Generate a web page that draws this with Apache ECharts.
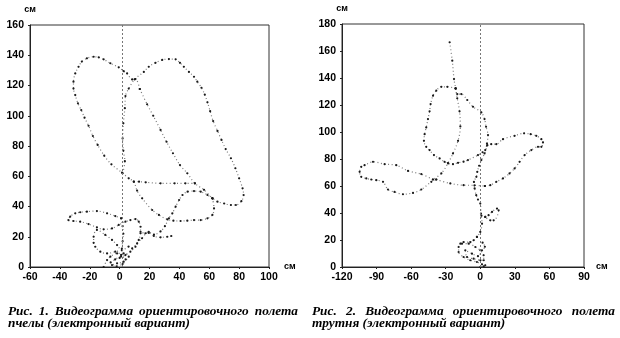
<!DOCTYPE html>
<html>
<head>
<meta charset="utf-8">
<script src="https://cdn.jsdelivr.net/npm/echarts@6/dist/echarts.min.js"></script>
<style>
html,body{margin:0;padding:0;background:#fff;}
#c{width:620px;height:338px;}
</style>
</head>
<body>
<div id="c"></div>
<script>
// ---------- Axis settings / tick labels ----------
const beeX = { min: -60, max: 100, interval: 20 };
const beeY = { min: 0, max: 160, interval: 20 };
const droneX = { min: -120, max: 90, interval: 30 };
const droneY = { min: 0, max: 180, interval: 20 };
const unitLabel = 'см';
const beeRefX = 2;    // vertical reference line, fig. 1
const droneRefX = 0;  // vertical reference line, fig. 2

// ---------- Fig. 1: bee trajectory segments (cm) ----------
const beeLeftLobe = [[13.5,117.7],[10.6,124.3],[8.4,124],[5,128],[2.7,129.5],[-0.6,132],[-6.2,134.7],[-10.7,137.3],[-14,138.6],[-17.4,139],[-21.9,138],[-25.3,135.8],[-27.5,132.4],[-29.7,128],[-30.9,122.5],[-30.9,118],[-29.7,113.7],[-27.9,108.2],[-25.7,103.8],[-23.5,98.7],[-20.8,93.4],[-17.9,86.6],[-14.7,80.7],[-10.3,73.6],[-5.5,67.9],[1.6,62.4],[6.1,58.6],[9.5,56.4],[11.7,50.5],[15.1,45.4],[21.8,37.7],[26.3,34.4],[31.9,31.5],[36,30.6],[40.8,30.4],[45.3,30.6],[49.8,31],[54.3,31],[58.8,32.2],[62.1,34.4],[63.2,38.8],[62.1,45.4]];
const beeDiagonal = [[13.5,117.7],[18.4,107.6],[22.5,100],[27.4,90.6],[31.4,82.8],[35.7,75.2],[40.4,67.4],[45.3,62],[50.4,55.3],[56.5,51],[62.1,45.4]];
const beeRightLobe = [[2,62],[3.5,70],[2.5,77],[2,85],[2.5,95],[3.5,105],[3.9,113],[6.1,118],[10,124],[16.2,129],[19.5,132.4],[24,135],[28.5,136.9],[33,137.5],[37.5,137.3],[40.4,135],[43,132.4],[46.4,129],[49.8,125.8],[52,122.5],[54.8,118.5],[57,114],[58.8,108.9],[60.6,103],[62.6,96.5],[65.5,90],[68.2,84],[71,78],[74.5,71.9],[77.5,65.3],[80,58.6],[82.3,52],[83,47.6],[81.5,43.5],[77.8,41],[74.5,41],[70,42],[65.5,43.2],[62.1,45.4]];
const beeSmallLoop = [[62.1,45.4],[58.8,47.6],[54.3,49.8],[49.8,50.2],[45.5,49.8],[42.1,47.6],[39.8,44.3],[37.5,39.9],[35.3,35.5],[33,32.2],[30.3,27],[27.4,23.5],[23,21.5],[19.5,22.5],[17.3,22.3],[14,23.3]];
const beeCross = [[9.5,56.4],[13,56.4],[17.5,56],[27.4,55.3],[36.8,55.3],[44,55.3],[50.4,55.3]];
const beeZigzag = [[8.4,12.3],[11.7,15.6],[15,19],[19.5,23.3],[22.9,20.5],[27.4,19.6],[31.9,20],[34.6,20.5]];
const beeSideLoop = [[1,32.2],[-2.9,33.7],[-8.4,35.5],[-15.2,37],[-21.9,36.6],[-26.4,36.2],[-29.7,35.5],[-33.1,33.3],[-34.3,31],[-30.9,30.4],[-26.4,30],[-20.8,28.4],[-15.2,26.2],[-10.7,24.9],[-5.1,25.5],[-0.6,27.8],[3.9,30],[7.2,31],[10.6,31.7],[12.8,30],[14,26.6],[14,22.3],[12.8,17.9],[10.6,13.4],[7.2,10.1],[3.9,7.9],[0,6]];
const beeStem = [[1,32.2],[2,27],[2.5,22],[2,17],[1.5,12],[1,8]];
const beeTeardrop = [[6,13.5],[1.6,11.2],[-1.7,14.5],[-5.1,17.9],[-9.6,21.2],[-15.2,24.5],[-17.4,20],[-17.4,16],[-16.3,13.4],[-12.9,10.1],[-8.4,9],[-2.9,10.1],[1.6,11.2]];
const beeKnot = [[-10.7,0],[-8.4,4.6],[-6.2,6.8],[-1.7,9],[2.7,9],[6.1,6.8],[2.7,3.5],[-1.7,2.4],[-5.1,1.3],[-2,0.5],[2,2],[4,5],[1,7],[-3,5],[-6,3]];

// ---------- Fig. 2: drone trajectory segments (cm) ----------
const droneSpike = [[-26.6,166.5],[-24.3,152.8],[-22.8,139.2],[-21.4,132.3],[-20,125],[-18,115.3],[-17.3,104.1],[-19.3,93.5],[-23.7,84.1],[-28,77],[-33.8,69.3],[-41.1,64.8]];
const dronePear = [[-21.4,132.3],[-28.6,133.5],[-33.8,133.5],[-38.2,130.6],[-41,126.9],[-43.1,120.7],[-44,115.3],[-45.4,109.6],[-46.9,103.4],[-48.3,98.4],[-48.9,93.5],[-46.9,89],[-44,86.6],[-40.2,82.9],[-35.3,80.4],[-31,77.9],[-28,76.7],[-23.7,76.2],[-19.3,77.2],[-14.5,78],[-10.7,79.2],[-2,82.9],[2,85],[4.3,86.6],[5.8,91.5],[6.7,97.7],[5,103.9],[3.7,109.6],[0.9,114.5],[-6.3,118.7],[-11.3,123.7],[-16.5,128.1],[-20,128.1],[-21.4,132.3]];
const droneRightLoop = [[6,90],[9.5,91],[13.9,91],[19.7,94.7],[29.8,97.2],[38,99],[43.7,98.4],[48.6,97.2],[53,94.7],[54.4,92.3],[53,89],[50.1,89],[44.3,86.6],[38.5,82.9],[34.1,77.9],[29.8,73],[25.4,69.3],[19.7,65.6],[13.9,63.1],[8.7,60.6],[4,60]];
const droneLeftLoop = [[-41.1,64.8],[-51.2,68.8],[-62.7,71.2],[-72.9,75.4],[-83,76.2],[-93.1,77.9],[-100.4,75.4],[-103.3,74.2],[-104.7,70.5],[-103.3,66.8],[-98.9,65.6],[-94.6,64.8],[-90.2,64.3],[-84.4,63.1],[-80.1,57.4],[-74.4,55.6],[-67.1,53.9],[-58.4,54.9],[-51.2,57.4],[-42.5,63.1],[-38.2,64.8]];
const droneCross = [[-38.2,64.8],[-26,61.9],[-14.5,60.6],[-5,60.5],[4,60]];
const droneStem = [[-5.8,19.8],[-2.9,22.3],[0,26],[1.5,32.2],[0.6,39.6],[0,47],[-2,50],[-3.5,53.2],[-4.9,58.2],[-5.5,63],[-3.4,66.8],[-2.6,70.5],[-1,75],[0.9,79.2],[3.7,84.1],[6.1,90.3]];
const droneLeaf = [[1,38],[4.3,37.1],[7.2,38.4],[10.2,40.8],[14.5,43.3],[15.9,42],[11.6,34.6],[8.7,34.6],[4.3,37.1]];
const droneKnotA = [[-2.9,22.3],[-8.7,18.5],[-14.5,18.5],[-17.3,17.3],[-18.8,14.8],[-18.8,11.1],[-14.5,7.4],[-8.7,5],[-2.9,3.7],[1.5,2],[4.3,1.3],[3,0.5],[0,0]];
const droneKnotB = [[-15.9,17.3],[-10.1,17.3],[-4.3,14.8],[0,12.4],[2.9,8.7],[3,5],[0,5],[-5.8,6.2],[-11.5,7.4],[-13,12.4],[-7.2,9.9],[-2,8],[1.5,12.4],[4,15],[2,18]];

// ---------- Captions ----------
const cap1Line1 = ['Рис.', '1.', 'Видеограмма', 'ориентировочного', 'полета'];
const cap1Line2 = 'пчелы (электронный вариант)';
const cap2Line1 = ['Рис.', '2.', 'Видеограмма', 'ориентировочного', 'полета'];
const cap2Line2 = 'трутня (электронный вариант)';

// ---------- Build ----------
const chart = echarts.init(document.getElementById('c'), null, { renderer: 'canvas' });

function traj(data, gi) {
  return {
    type: 'line', xAxisIndex: gi, yAxisIndex: gi, data: data,
    smooth: 0.35, symbol: 'circle', symbolSize: 2.2, showSymbol: true,
    itemStyle: { color: '#1a1a1a' },
    lineStyle: { color: '#7a7a7a', width: 1.2, type: [1, 2.6] },
    silent: true, animation: false, z: 3
  };
}
function refLine(x, gi) {
  return {
    type: 'line', xAxisIndex: gi, yAxisIndex: gi, data: [], silent: true,
    markLine: { silent: true, symbol: 'none', animation: false,
      label: { show: false },
      lineStyle: { color: '#777', width: 1, type: [2, 2] },
      data: [{ xAxis: x }] }
  };
}
const labelStyle = { color: '#000', fontFamily: 'Liberation Sans', fontWeight: 'bold', fontSize: 10.5 };
function xAx(cfg, gi, gap) {
  return { type: 'value', gridIndex: gi, min: cfg.min, max: cfg.max, interval: cfg.interval,
    name: unitLabel, nameLocation: 'end', nameGap: gap,
    nameTextStyle: { color: '#000', fontFamily: 'Liberation Sans', fontWeight: 'bold', fontSize: 9, align: 'left', verticalAlign: 'middle', padding: [3, 0, 0, 0] },
    axisLine: { show: true, onZero: false, lineStyle: { color: '#222', width: 1 } },
    axisTick: { show: true, length: 2, lineStyle: { color: '#222' } },
    axisLabel: Object.assign({ margin: 5 }, labelStyle),
    splitLine: { show: false } };
}
function yAx(cfg, gi) {
  return { type: 'value', gridIndex: gi, min: cfg.min, max: cfg.max, interval: cfg.interval,
    name: unitLabel, nameLocation: 'end', nameGap: 11,
    nameTextStyle: { color: '#000', fontFamily: 'Liberation Sans', fontWeight: 'bold', fontSize: 9, align: 'center' },
    axisLine: { show: true, onZero: false, lineStyle: { color: '#222', width: 1 } },
    axisTick: { show: true, length: 2, lineStyle: { color: '#222' } },
    axisLabel: Object.assign({ margin: 6 }, labelStyle),
    splitLine: { show: false } };
}

// caption layout (justified first line)
const capFont = 'italic bold 13.3px "Liberation Serif"';
const mctx = document.createElement('canvas').getContext('2d');
mctx.font = capFont;
function justified(words, x0, x1, y) {
  const w = words.map(s => mctx.measureText(s).width);
  const sum = w.reduce((a, b) => a + b, 0);
  const gap = Math.max(3, (x1 - x0 - sum) / (words.length - 1));
  let x = x0; const out = [];
  words.forEach((s, i) => {
    out.push({ type: 'text', x: x, y: y, silent: true,
      style: { text: s, font: capFont, fill: '#000', verticalAlign: 'middle' } });
    x += w[i] + gap;
  });
  return out;
}
function plain(s, x, y) {
  return { type: 'text', x: x, y: y, silent: true,
    style: { text: s, font: capFont, fill: '#000', verticalAlign: 'middle' } };
}

const graphics = [].concat(
  justified(cap1Line1, 8, 298, 312),
  [plain(cap1Line2, 8, 324)],
  justified(cap2Line1, 312, 615, 312),
  [plain(cap2Line2, 312, 324)]
);

const beeSegs = [beeLeftLobe, beeDiagonal, beeRightLobe, beeSmallLoop, beeCross, beeZigzag, beeSideLoop, beeStem, beeTeardrop, beeKnot];
const droneSegs = [droneSpike, dronePear, droneRightLoop, droneLeftLoop, droneCross, droneStem, droneLeaf, droneKnotA, droneKnotB];

chart.setOption({
  backgroundColor: '#fff',
  animation: false,
  grid: [
    { left: 30, top: 25, width: 239, height: 242, show: true, borderColor: '#333', borderWidth: 1, backgroundColor: 'transparent' },
    { left: 342, top: 24, width: 242, height: 243, show: true, borderColor: '#333', borderWidth: 1, backgroundColor: 'transparent' }
  ],
  xAxis: [xAx(beeX, 0, 15), xAx(droneX, 1, 12)],
  yAxis: [yAx(beeY, 0), yAx(droneY, 1)],
  series: [refLine(beeRefX, 0), refLine(droneRefX, 1)]
    .concat(beeSegs.map(d => traj(d, 0)))
    .concat(droneSegs.map(d => traj(d, 1))),
  graphic: graphics
});
</script>
</body>
</html>
